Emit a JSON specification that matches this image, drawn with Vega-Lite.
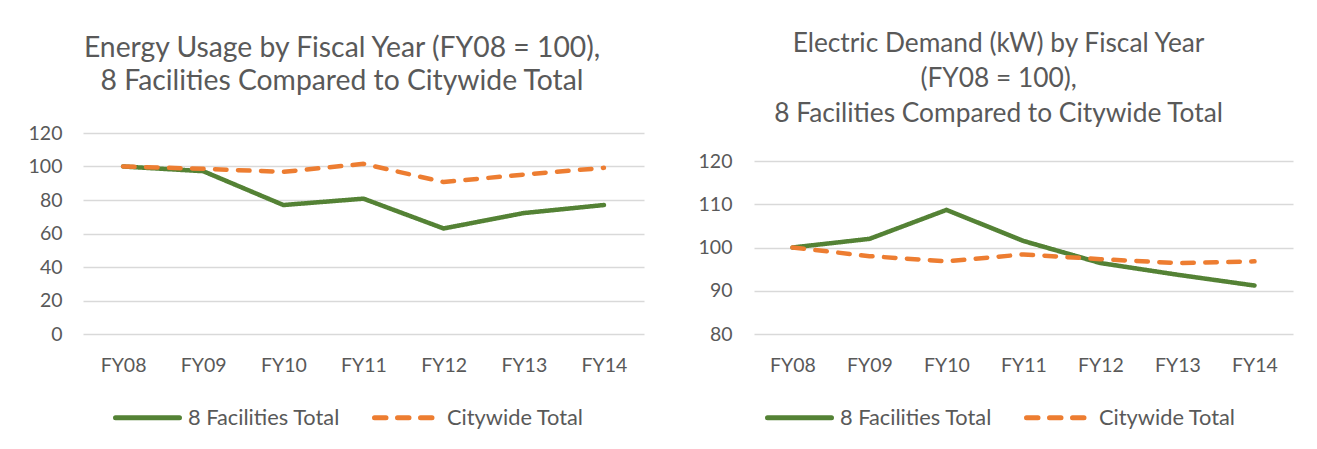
{
  "$schema": "https://vega.github.io/schema/vega-lite/v6.json",
  "background": "white",
  "padding": {"left": 28, "top": 30, "right": 10, "bottom": 5},
  "datasets": {
    "energy": [
      {"year": "FY08", "series": "8 Facilities Total", "value": 100},
      {"year": "FY09", "series": "8 Facilities Total", "value": 97.2},
      {"year": "FY10", "series": "8 Facilities Total", "value": 77},
      {"year": "FY11", "series": "8 Facilities Total", "value": 80.8},
      {"year": "FY12", "series": "8 Facilities Total", "value": 63},
      {"year": "FY13", "series": "8 Facilities Total", "value": 72.2},
      {"year": "FY14", "series": "8 Facilities Total", "value": 77},
      {"year": "FY08", "series": "Citywide Total", "value": 100},
      {"year": "FY09", "series": "Citywide Total", "value": 98.6},
      {"year": "FY10", "series": "Citywide Total", "value": 96.8},
      {"year": "FY11", "series": "Citywide Total", "value": 101.6},
      {"year": "FY12", "series": "Citywide Total", "value": 90.7},
      {"year": "FY13", "series": "Citywide Total", "value": 95.2},
      {"year": "FY14", "series": "Citywide Total", "value": 99.2}
    ],
    "demand": [
      {"year": "FY08", "series": "8 Facilities Total", "value": 100},
      {"year": "FY09", "series": "8 Facilities Total", "value": 102},
      {"year": "FY10", "series": "8 Facilities Total", "value": 108.7},
      {"year": "FY11", "series": "8 Facilities Total", "value": 101.5},
      {"year": "FY12", "series": "8 Facilities Total", "value": 96.4},
      {"year": "FY13", "series": "8 Facilities Total", "value": 93.7},
      {"year": "FY14", "series": "8 Facilities Total", "value": 91.2},
      {"year": "FY08", "series": "Citywide Total", "value": 100},
      {"year": "FY09", "series": "Citywide Total", "value": 98},
      {"year": "FY10", "series": "Citywide Total", "value": 96.8},
      {"year": "FY11", "series": "Citywide Total", "value": 98.4},
      {"year": "FY12", "series": "Citywide Total", "value": 97.3},
      {"year": "FY13", "series": "Citywide Total", "value": 96.4},
      {"year": "FY14", "series": "Citywide Total", "value": 96.8}
    ]
  },
  "config": {
    "font": "Lato",
    "view": {"stroke": null},
    "axis": {"labelColor": "#595959", "labelFontSize": 19.5, "domain": false, "ticks": false, "gridColor": "#d9d9d9", "gridWidth": 1.3, "title": null},
    "title": {"color": "#595959", "fontWeight": "normal", "frame": "bounds"},
    "legend": {"padding": 0}
  },
  "spacing": 54,
  "resolve": {"legend": {"color": "independent", "strokeDash": "independent"}},
  "hconcat": [
    {
      "width": 561,
      "height": 201,
      "title": {"text": ["Energy Usage by Fiscal Year (FY08 = 100),", "8 Facilities Compared to Citywide Total"], "offset": 27, "fontSize": 28.3, "lineHeight": 33, "dx": 6},
      "data": {"name": "energy"},
      "mark": {"type": "line", "strokeWidth": 4.5, "strokeCap": "round", "strokeJoin": "round"},
      "encoding": {
        "x": {"field": "year", "type": "ordinal", "scale": {"type": "point", "padding": 0.5}, "axis": {"labelAngle": 0, "labelPadding": 22, "grid": false}},
        "y": {"field": "value", "type": "quantitative", "scale": {"domain": [0, 120]}, "axis": {"values": [0, 20, 40, 60, 80, 100, 120], "labelPadding": 21}},
        "color": {"field": "series", "type": "nominal", "scale": {"domain": ["8 Facilities Total", "Citywide Total"], "range": ["#548235", "#ED7D31"]},
          "legend": {"orient": "none", "legendX": 30, "legendY": 250, "direction": "horizontal", "title": null, "symbolType": "stroke", "symbolSize": 4096, "symbolStrokeWidth": 5, "labelFontSize": 21.8, "labelColor": "#595959", "columnPadding": 24, "labelOffset": 6, "encode": {"symbols": {"update": {"strokeCap": {"value": "round"}}}}}},
        "strokeDash": {"field": "series", "type": "nominal", "scale": {"domain": ["8 Facilities Total", "Citywide Total"], "range": [[1, 0], [11.5, 11.5]]},
          "legend": {"orient": "none", "legendX": 30, "legendY": 250, "direction": "horizontal", "title": null, "symbolType": "stroke", "symbolSize": 4096, "symbolStrokeWidth": 5, "labelFontSize": 21.8, "labelColor": "#595959", "columnPadding": 24, "labelOffset": 6, "encode": {"symbols": {"update": {"strokeCap": {"value": "round"}}}}}}
      }
    },
    {
      "width": 539,
      "height": 201,
      "title": {"text": ["Electric Demand (kW) by Fiscal Year", "(FY08 = 100),", "8 Facilities Compared to Citywide Total"], "offset": 6, "fontSize": 26.3, "lineHeight": 35, "dx": 3},
      "data": {"name": "demand"},
      "mark": {"type": "line", "strokeWidth": 4.5, "strokeCap": "round", "strokeJoin": "round"},
      "encoding": {
        "x": {"field": "year", "type": "ordinal", "scale": {"type": "point", "padding": 0.5}, "axis": {"labelAngle": 0, "labelPadding": 22, "grid": false}},
        "y": {"field": "value", "type": "quantitative", "scale": {"domain": [80, 120], "range": [201, 28]}, "axis": {"values": [80, 90, 100, 110, 120], "labelPadding": 22}},
        "color": {"field": "series", "type": "nominal", "scale": {"domain": ["8 Facilities Total", "Citywide Total"], "range": ["#548235", "#ED7D31"]},
          "legend": {"orient": "none", "legendX": 11, "legendY": 250, "direction": "horizontal", "title": null, "symbolType": "stroke", "symbolSize": 4096, "symbolStrokeWidth": 5, "labelFontSize": 21.8, "labelColor": "#595959", "columnPadding": 24, "labelOffset": 6, "encode": {"symbols": {"update": {"strokeCap": {"value": "round"}}}}}},
        "strokeDash": {"field": "series", "type": "nominal", "scale": {"domain": ["8 Facilities Total", "Citywide Total"], "range": [[1, 0], [11.5, 11.5]]},
          "legend": {"orient": "none", "legendX": 11, "legendY": 250, "direction": "horizontal", "title": null, "symbolType": "stroke", "symbolSize": 4096, "symbolStrokeWidth": 5, "labelFontSize": 21.8, "labelColor": "#595959", "columnPadding": 24, "labelOffset": 6, "encode": {"symbols": {"update": {"strokeCap": {"value": "round"}}}}}}
      }
    }
  ]
}
